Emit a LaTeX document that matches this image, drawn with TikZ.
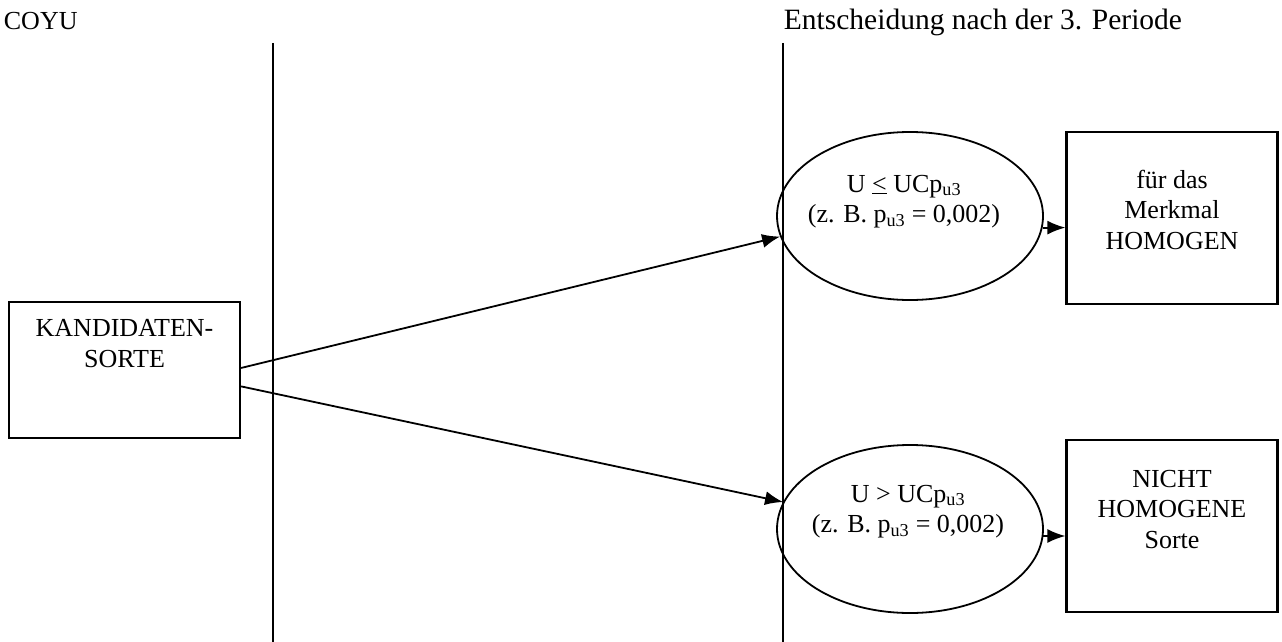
\documentclass[tikz,border=0pt]{standalone}
\usepackage{fontspec}
\setmainfont{Liberation Serif}
\usetikzlibrary{arrows.meta,positioning,shapes.geometric}

\begin{document}
\begin{tikzpicture}[x=1pt,y=-1pt,>={Latex[length=18pt,width=14pt]},line width=1.8pt,
  every node/.style={font=\fontsize{26}{30.5}\selectfont},
  box/.style={draw,line width=2.2pt,minimum width=211pt,minimum height=172pt,inner sep=0pt},
  cond/.style={draw,ellipse,minimum width=266pt,minimum height=168pt,inner sep=0pt},
  txt/.style={align=center,inner sep=0pt}]
\useasboundingbox (0,0) rectangle (1282,642);
% headings and period lines
\node[anchor=base west,inner sep=0pt] (coyu) at (3,30) {COYU};
\node[anchor=base west,inner sep=0pt,font=\fontsize{29.5}{30}\selectfont] (title) at (783,30) {Entscheidung nach der 3. Periode};
\draw (273,43) -- (273,642);
\draw (783,43) -- (783,642);
% candidate variety
\node[box,minimum width=231pt,minimum height=136pt] (cand) at (124.5,370) {};
\node[txt,below=18pt of cand.north] (candtxt) {KANDIDATEN-\\SORTE};
% decisions
\node[cond] (up) at (910,216) {};
\node[txt,below=43pt of up.north,xshift=-6pt] (uptxt) {U \underline{<} UCp\textsubscript{u3}\\(z. B. p\textsubscript{u3} = 0,002)};
\node[cond] (low) at (910,529) {};
\node[txt,below=40pt of low.north,xshift=-2pt] (lowtxt) {U > UCp\textsubscript{u3}\\(z. B. p\textsubscript{u3} = 0,002)};
% results
\node[box] (hom) at (1172,218) {};
\node[txt,below=38pt of hom.north] (homtxt) {für das\\Merkmal\\HOMOGEN};
\node[box] (nhom) at (1172,526) {};
\node[txt,below=30pt of nhom.north] (nhomtxt) {NICHT\\HOMOGENE\\Sorte};
\draw[->] (cand.1) -- (up.189);
\draw[->] (cand.-8) -- (low.168);
\draw[->] (up.-5) -- (up.-5 -| hom.west);
\draw[->] (low.-3) -- (low.-3 -| nhom.west);
\end{tikzpicture}
\end{document}
